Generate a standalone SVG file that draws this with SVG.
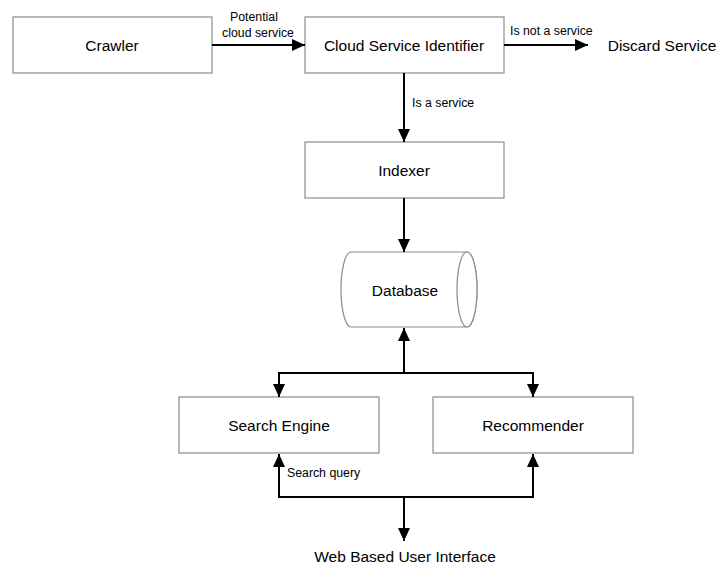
<svg xmlns="http://www.w3.org/2000/svg" width="718" height="568" viewBox="0 0 718 568">
<defs>
<style>
.box{fill:#fff;stroke:#8c8c8c;stroke-width:1.2}
.t{font-family:"Liberation Sans",Arial,sans-serif;font-size:15.5px;fill:#000;text-anchor:middle;dominant-baseline:central}
.s{font-family:"Liberation Sans",Arial,sans-serif;font-size:12.3px;fill:#000}
.c{fill:none;stroke:#000;stroke-width:2}
</style>
<marker id="ah" markerWidth="13" markerHeight="12" refX="13" refY="6" orient="auto" markerUnits="userSpaceOnUse">
<path d="M0,0 L13,6 L0,12 Z" fill="#000"/>
</marker>
</defs>
<rect width="718" height="568" fill="#fff"/>
<g id="crawler"><rect class="box" x="13" y="17" width="199" height="56"/><text class="t" x="112" y="45">Crawler</text></g>
<g id="identifier"><rect class="box" x="305" y="17" width="199" height="56"/><text class="t" x="404" y="45">Cloud Service Identifier</text></g>
<g id="discard"><text class="t" x="662" y="45">Discard Service</text></g>
<g id="indexer"><rect class="box" x="305" y="142" width="199" height="56"/><text class="t" x="404" y="170">Indexer</text></g>
<g id="database">
<path class="box" d="M351,252 L467,252 A10,37.5 0 0 1 467,327 L351,327 A10,37.5 0 0 1 351,252 Z"/>
<ellipse class="box" cx="467" cy="289.5" rx="10" ry="37.5"/>
<text class="t" x="405" y="290">Database</text>
</g>
<g id="search"><rect class="box" x="179" y="397" width="200" height="56"/><text class="t" x="279" y="425">Search Engine</text></g>
<g id="recommender"><rect class="box" x="433" y="397" width="200" height="56"/><text class="t" x="533" y="425">Recommender</text></g>
<g id="ui"><text class="t" x="405" y="556">Web Based User Interface</text></g>
<g id="connectors">
<line class="c" x1="212" y1="45" x2="305" y2="45" marker-end="url(#ah)"/>
<line class="c" x1="504" y1="45" x2="588" y2="45" marker-end="url(#ah)"/>
<line class="c" x1="404" y1="73" x2="404" y2="142" marker-end="url(#ah)"/>
<line class="c" x1="404" y1="198" x2="404" y2="252" marker-end="url(#ah)"/>
<line class="c" x1="404" y1="373" x2="404" y2="328" marker-end="url(#ah)"/>
<path class="c" d="M404,373 H279 V397" marker-end="url(#ah)"/>
<path class="c" d="M404,373 H533 V397" marker-end="url(#ah)"/>
<path class="c" d="M404,497 H279 V454" marker-end="url(#ah)"/>
<path class="c" d="M404,497 H533 V454" marker-end="url(#ah)"/>
<line class="c" x1="404" y1="497" x2="404" y2="541" marker-end="url(#ah)"/>
<text class="s" x="254" y="21" text-anchor="middle">Potential</text>
<text class="s" x="258" y="37" text-anchor="middle">cloud service</text>
<text class="s" x="510" y="35">Is not a service</text>
<text class="s" x="412" y="107">Is a service</text>
<text class="s" x="287" y="477">Search query</text>
</g>
</svg>
